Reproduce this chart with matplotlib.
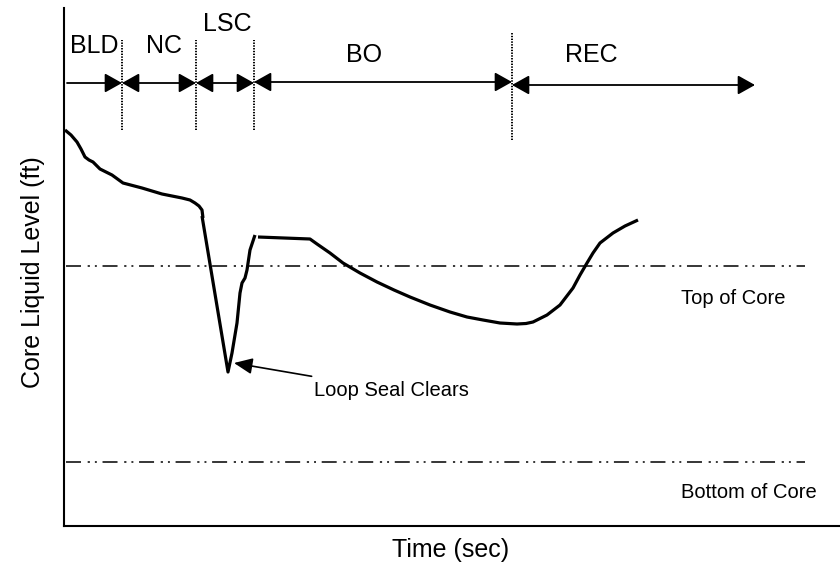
import matplotlib
matplotlib.use("Agg")
import matplotlib.pyplot as plt

plt.rcParams['font.family'] = ['Liberation Sans', 'DejaVu Sans']
plt.rcParams['lines.scale_dashes'] = False

# Core liquid level trace (arbitrary time / level units), drawn as three pieces
seg_blowdown_t = [1, 7, 13, 17, 21, 25, 29, 36, 42, 48, 59, 78, 98, 118, 126, 131, 135, 138, 139]
seg_blowdown_l = [396, 391, 384, 377, 369, 366, 364, 357, 354, 351, 343, 338, 332, 328, 326, 323, 320, 316, 308]
seg_lsc_t = [138, 164, 168, 173, 176, 178, 181, 183, 186, 191]
seg_lsc_l = [310, 154, 173, 203, 233, 243, 248, 256, 276, 291]
seg_boil_t = [194, 246, 253, 266, 279, 296, 313, 330, 346, 366, 386, 403, 419, 436, 453, 462,
              469, 483, 496, 509, 516, 523, 529, 536, 549, 561, 574]
seg_boil_l = [289, 287, 282, 273, 263, 253, 244, 236, 229, 221, 214, 209, 206, 203, 202, 202.5,
              204, 211, 221, 238, 251, 263, 273, 283, 293, 300, 306]

# Reference elevations
top_of_core = 260
bottom_of_core = 64
ref_start, ref_end = 2, 741

# Phase boundaries and labels
boundaries = [58, 132, 190, 448]
boundary_top = [486, 486, 486, 493]
boundary_bottom = [396, 396, 396, 386]
phases = ["BLD", "NC", "LSC", "BO", "REC"]
phase_from = [3, 58, 132, 190, 448]
phase_to = [58, 132, 190, 448, 691]
phase_arrow_level = [443, 443, 443, 444, 441]
phase_label_t = [30, 100.5, 163, 300, 527]
phase_label_l = [480, 480, 502, 471, 471]

W, H = 840, 566
fig = plt.figure(figsize=(W / 100, H / 100), dpi=100)
ax = fig.add_axes([64 / W, 40 / H, 776 / W, 518 / H])
ax.set_xlim(0, 776)
ax.set_ylim(0, 518)

for s in ("top", "right"):
    ax.spines[s].set_visible(False)
for s in ("left", "bottom"):
    ax.spines[s].set_linewidth(1.5)
ax.set_xticks([])
ax.set_yticks([])

ddot = (0, (10.8, 4.8, 1.6, 3.6, 1.4, 4.1))
for lvl in (top_of_core, bottom_of_core):
    ax.plot([ref_start, ref_end], [lvl, lvl], color="black", lw=1.1,
            linestyle=ddot, dash_capstyle="butt")

for t, l in ((seg_blowdown_t, seg_blowdown_l), (seg_lsc_t, seg_lsc_l),
             (seg_boil_t, seg_boil_l)):
    ax.plot(t, l, color="black", lw=2.3, solid_capstyle="butt",
            solid_joinstyle="round")

for b, y0, y1 in zip(boundaries, boundary_bottom, boundary_top):
    ax.plot([b, b], [y0, y1], color="black", lw=1.4,
            linestyle=(0, (1.0, 1.0)), clip_on=False)

label_size = 18
note_size = 14.5

for i, name in enumerate(phases):
    style = "-|>" if i == 0 else "<|-|>"
    ax.annotate("", xy=(phase_to[i], phase_arrow_level[i]),
                xytext=(phase_from[i], phase_arrow_level[i]),
                arrowprops=dict(arrowstyle=style + ",head_length=0.75,head_width=0.42",
                                color="black", lw=1.3, mutation_scale=14,
                                shrinkA=0, shrinkB=0),
                annotation_clip=False)
    ax.text(phase_label_t[i], phase_label_l[i], name, ha="center", va="center",
            fontsize=label_size)

ax.text(617, 228, "Top of Core", ha="left", va="center", fontsize=note_size)
ax.text(617, 33, "Bottom of Core", ha="left", va="center", fontsize=note_size)

ax.annotate("Loop Seal Clears", xy=(170, 163), xytext=(250, 136),
            ha="left", va="center", fontsize=note_size,
            arrowprops=dict(arrowstyle="-|>,head_length=0.8,head_width=0.35",
                            color="black", lw=1.2, mutation_scale=14,
                            shrinkA=6, shrinkB=0))

fig.text(451 / W, 1 - 550 / H, "Time (sec)", ha="center", va="center",
         fontsize=label_size)
fig.text(33 / W, 1 - 272 / H, "Core Liquid Level (ft)", ha="center", va="center",
         rotation=90, fontsize=label_size)

fig.savefig("out.png", dpi=100)
